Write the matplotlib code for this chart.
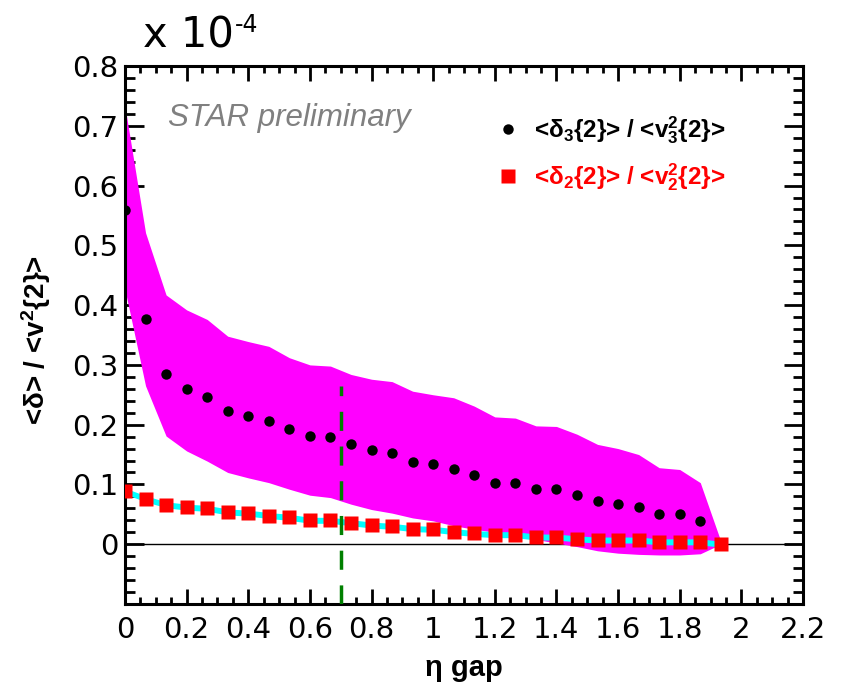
import numpy as np
import matplotlib.pyplot as plt
from matplotlib.ticker import MultipleLocator, FuncFormatter

# eta gap bins (delta2 has one more bin than delta3)
eta_gap = [0.0, 0.0667, 0.1333, 0.2, 0.2667, 0.3333, 0.4, 0.4667, 0.5333, 0.6,
           0.6667, 0.7333, 0.8, 0.8667, 0.9333, 1.0, 1.0667, 1.1333, 1.2, 1.2667,
           1.3333, 1.4, 1.4667, 1.5333, 1.6, 1.6667, 1.7333, 1.8, 1.8667, 1.9333]

# <delta3{2}> / <v3^2{2}>
delta3 = [0.559, 0.377, 0.284, 0.260, 0.246, 0.223, 0.214, 0.206, 0.192, 0.181,
          0.179, 0.167, 0.158, 0.152, 0.138, 0.135, 0.126, 0.116, 0.103, 0.103,
          0.093, 0.093, 0.082, 0.072, 0.067, 0.062, 0.051, 0.050, 0.039]

# systematic band for delta3 (magenta)
delta3_low = [0.426, 0.265, 0.181, 0.156, 0.139, 0.120, 0.111, 0.103, 0.092, 0.082,
              0.078, 0.067, 0.058, 0.052, 0.044, 0.039, 0.031, 0.025, 0.020, 0.014,
              0.008, 0.002, -0.004, -0.011, -0.015, -0.017, -0.018, -0.018, -0.016, 0.0]
delta3_high = [0.732, 0.521, 0.417, 0.392, 0.376, 0.348, 0.339, 0.331, 0.312, 0.300,
               0.298, 0.284, 0.276, 0.272, 0.256, 0.250, 0.245, 0.231, 0.213, 0.211,
               0.198, 0.197, 0.184, 0.167, 0.160, 0.150, 0.128, 0.125, 0.103, 0.005]

# <delta2{2}> / <v2^2{2}>
delta2 = [0.089, 0.076, 0.066, 0.062, 0.060, 0.054, 0.052, 0.048, 0.045, 0.040,
          0.040, 0.036, 0.032, 0.030, 0.026, 0.025, 0.021, 0.018, 0.016, 0.016,
          0.012, 0.012, 0.009, 0.007, 0.007, 0.007, 0.004, 0.004, 0.004, 0.0]
delta2_sys = 0.005

cut_eta = 0.7
cut_top = 0.265

plt.rcParams['mathtext.fontset'] = 'custom'
plt.rcParams['mathtext.rm'] = 'Liberation Sans:bold'
plt.rcParams['mathtext.it'] = 'Liberation Sans:bold'
plt.rcParams['mathtext.bf'] = 'Liberation Sans:bold'

W, H = 842, 686
fig = plt.figure(figsize=(W / 100, H / 100), dpi=100)
ax = fig.add_axes([125 / W, 1 - 604 / H, 678 / W, 538 / H])

x2 = np.array(eta_gap)
d2 = np.array(delta2)

ax.axhline(0, color='black', lw=1, zorder=1)
ax.fill_between(x2, delta3_low, delta3_high, color='#ff00ff', lw=0, zorder=2)
ax.fill_between(x2, d2 - delta2_sys, d2 + delta2_sys, color='#00ffff', lw=0, zorder=3)
ax.vlines(cut_eta, -0.1, cut_top, colors='#008000', lw=2.5, linestyles=(0, (5.5, 4.5)), zorder=4)
h3, = ax.plot(eta_gap[:len(delta3)], delta3, 'o', ms=7.5, color='black', mec='none', zorder=5)
h2, = ax.plot(eta_gap, delta2, 's', ms=9.5, color='red', mec='none', zorder=6)

ax.set_xlim(0, 2.2)
ax.set_ylim(-0.1, 0.8)
ax.xaxis.set_major_locator(MultipleLocator(0.2))
ax.xaxis.set_minor_locator(MultipleLocator(0.05))
ax.set_yticks(np.arange(0, 0.81, 0.1))
ax.yaxis.set_minor_locator(MultipleLocator(0.02))
fmt = FuncFormatter(lambda v, p: f'{round(v, 1):g}')
ax.xaxis.set_major_formatter(fmt)
ax.yaxis.set_major_formatter(fmt)

ax.tick_params(which='both', direction='in', top=True, right=True, width=2, labelsize=21)
ax.tick_params(axis='x', which='major', length=11, pad=9)
ax.tick_params(axis='x', which='minor', length=5)
ax.tick_params(axis='y', which='major', length=14, pad=5)
ax.tick_params(axis='y', which='minor', length=7)
for s in ax.spines.values():
    s.set_linewidth(2.2)

ax.set_xlabel('η gap', fontsize=21, fontweight='bold', family='Liberation Sans', labelpad=7)
fig.text(36 / W, 1 - 340 / H, '<δ> / <v$^2${2}>', rotation=90, ha='center', va='center',
         fontsize=20, fontweight='bold', family='Liberation Sans')

fig.text(143 / W, 1 - 47 / H, 'x 10', fontsize=30, va='baseline')
fig.text(235 / W, 1 - 32 / H, '-4', fontsize=17, va='baseline')
fig.text(168 / W, 1 - 126 / H, 'STAR preliminary', fontsize=22.5, style='italic',
         color='#808080', family='Liberation Sans', va='baseline')

ax.legend([h3, h2], ['<δ$_3${2}> / <v$_3^2${2}>', '<δ$_2${2}> / <v$_2^2${2}>'],
          loc='upper left', bbox_to_anchor=(0.517, 0.95), frameon=False, numpoints=1,
          handlelength=0.9, handletextpad=0.6, labelspacing=0.6,
          prop={'family': 'Liberation Sans', 'weight': 'bold', 'size': 17.5},
          labelcolor=['black', 'red'])

fig.savefig('out.png', dpi=100)
